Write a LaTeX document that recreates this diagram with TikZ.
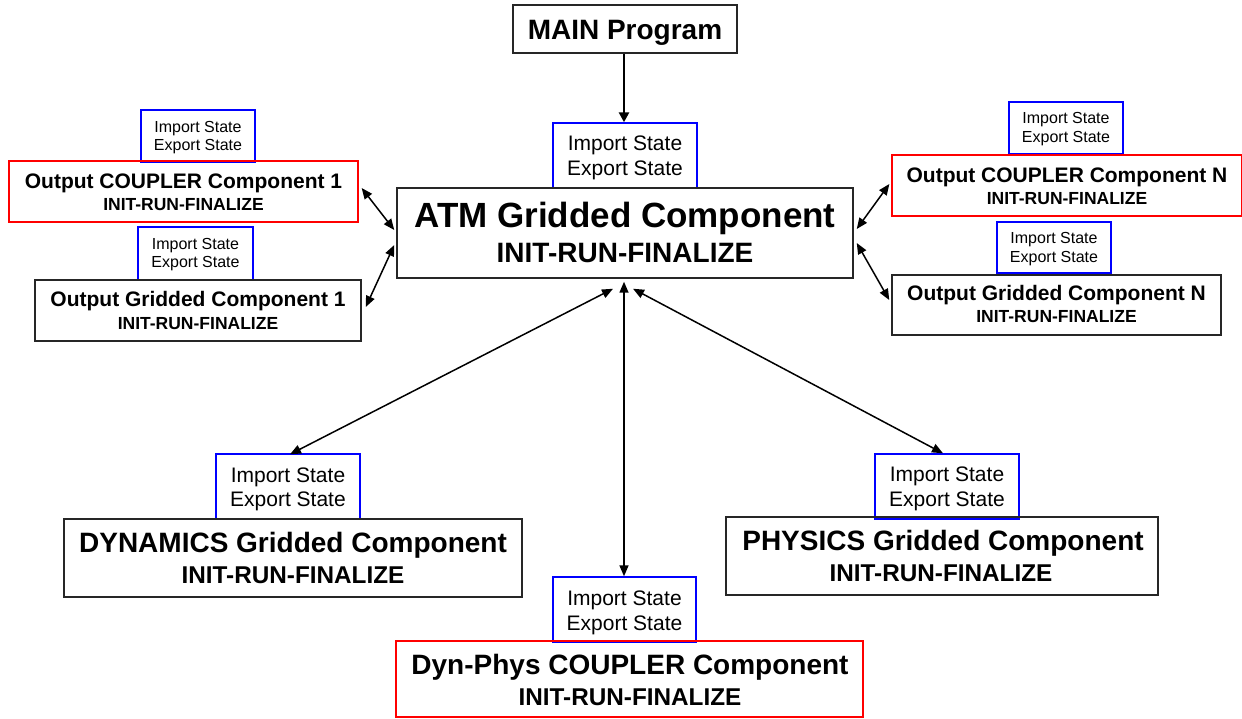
\documentclass[tikz,border=0pt]{standalone}
\usepackage{fontspec}
\setmainfont{Liberation Sans}
\usetikzlibrary{arrows.meta}
\tikzset{
  gbox/.style={draw=black!85, line width=1.5pt, rectangle, inner sep=0pt},
  cbox/.style={draw=red, line width=1.3pt, rectangle, inner sep=0pt},
  sbox/.style={draw=blue, line width=1.4pt, rectangle, inner sep=0pt},
  txt/.style={anchor=base, inner sep=0pt},
  conn/.style={line width=1.5pt, {Triangle[length=11pt,width=9pt]}-{Triangle[length=11pt,width=9pt]}},
  mainconn/.style={line width=2.5pt, -{Triangle[length=10pt,width=10pt]}}
}
\newcommand{\fs}[1]{\fontsize{#1}{#1}\selectfont}
\begin{document}
\begin{tikzpicture}[x=1pt,y=-1pt]
\useasboundingbox (0,0) rectangle (1242,719);
% boxes
\node[gbox, minimum width=224pt, minimum height=48pt] (main) at (625,29) {};
\node[sbox, minimum width=144pt, minimum height=65pt] (atmS) at (625,155.5) {};
\node[gbox, minimum width=456pt, minimum height=90pt] (atm) at (625,233) {};
\node[sbox, minimum width=114pt, minimum height=52pt] (c1S) at (198,136) {};
\node[cbox, minimum width=349pt, minimum height=61pt] (c1) at (183.5,191.5) {};
\node[sbox, minimum width=115pt, minimum height=53pt] (g1S) at (195.5,253.5) {};
\node[gbox, minimum width=326pt, minimum height=61pt] (g1) at (198,310.5) {};
\node[sbox, minimum width=114pt, minimum height=52pt] (cNS) at (1066,128) {};
\node[cbox, minimum width=349.5pt, minimum height=61pt] (cN) at (1066.75,185.5) {};
\node[sbox, minimum width=114pt, minimum height=51pt] (gNS) at (1054,247.5) {};
\node[gbox, minimum width=329pt, minimum height=60pt] (gN) at (1056.5,305) {};
\node[sbox, minimum width=144pt, minimum height=65pt] (dynS) at (288,486.5) {};
\node[gbox, minimum width=458pt, minimum height=78pt] (dyn) at (293,558) {};
\node[sbox, minimum width=144pt, minimum height=65pt] (phyS) at (947,486.5) {};
\node[gbox, minimum width=432pt, minimum height=78pt] (phy) at (942,556) {};
\node[sbox, minimum width=143pt, minimum height=65pt] (dpS) at (624.5,609.5) {};
\node[cbox, minimum width=467pt, minimum height=76pt] (dp) at (629.5,679) {};
% texts
\node[txt] (mainT) at (625,40) {\fs{28}\bfseries MAIN Program};
\node[txt] (atmSa) at (625,151) {\fs{21}Import State};
\node[txt] (atmSb) at (625,176) {\fs{21}Export State};
\node[txt] (atmTa) at (625,228) {\fs{35}\bfseries ATM Gridded Component};
\node[txt] (atmTb) at (625,263) {\fs{28}\bfseries INIT-RUN-FINALIZE};
\node[txt] (c1Sa) at (198,133) {\fs{16}Import State};
\node[txt] (c1Sb) at (198,151) {\fs{16}Export State};
\node[txt] (c1Ta) at (183.5,189) {\fs{21}\bfseries Output COUPLER Component 1};
\node[txt] (c1Tb) at (183.5,211) {\fs{17.5}\bfseries INIT-RUN-FINALIZE};
\node[txt] (g1Sa) at (195.5,250) {\fs{16}Import State};
\node[txt] (g1Sb) at (195.5,268) {\fs{16}Export State};
\node[txt] (g1Ta) at (198,307) {\fs{21}\bfseries Output Gridded Component 1};
\node[txt] (g1Tb) at (198,329) {\fs{17.5}\bfseries INIT-RUN-FINALIZE};
\node[txt] (cNSa) at (1066,124) {\fs{16}Import State};
\node[txt] (cNSb) at (1066,143) {\fs{16}Export State};
\node[txt] (cNTa) at (1067,183) {\fs{21}\bfseries Output COUPLER Component N};
\node[txt] (cNTb) at (1067,205) {\fs{17.5}\bfseries INIT-RUN-FINALIZE};
\node[txt] (gNSa) at (1054,244) {\fs{16}Import State};
\node[txt] (gNSb) at (1054,263) {\fs{16}Export State};
\node[txt] (gNTa) at (1056.5,301) {\fs{21}\bfseries Output Gridded Component N};
\node[txt] (gNTb) at (1056.5,323) {\fs{17.5}\bfseries INIT-RUN-FINALIZE};
\node[txt] (dynSa) at (288,482) {\fs{21}Import State};
\node[txt] (dynSb) at (288,506) {\fs{21}Export State};
\node[txt] (dynTa) at (293,552) {\fs{28}\bfseries DYNAMICS Gridded Component};
\node[txt] (dynTb) at (293,583) {\fs{24.3}\bfseries INIT-RUN-FINALIZE};
\node[txt] (phySa) at (947,481) {\fs{21}Import State};
\node[txt] (phySb) at (947,506) {\fs{21}Export State};
\node[txt] (phyTa) at (943,550) {\fs{28}\bfseries PHYSICS Gridded Component};
\node[txt] (phyTb) at (941,581) {\fs{24.3}\bfseries INIT-RUN-FINALIZE};
\node[txt] (dpSa) at (624.5,605) {\fs{21}Import State};
\node[txt] (dpSb) at (624.5,630) {\fs{21}Export State};
\node[txt] (dpTa) at (630,674) {\fs{28}\bfseries Dyn-Phys COUPLER Component};
\node[txt] (dpTb) at (630,705) {\fs{24.3}\bfseries INIT-RUN-FINALIZE};
% connectors
\draw[mainconn] ([xshift=-1pt]main.south) -- ([xshift=-1pt]atmS.north);
\draw[conn] ([xshift=3pt,yshift=3.5pt]c1.east) -- ([xshift=-2pt,yshift=3pt]atm.west);
\draw[conn] ([xshift=4pt,yshift=3.5pt]g1.east) -- ([xshift=-2pt,yshift=-12pt]atm.west);
\draw[conn] ([xshift=3pt,yshift=4pt]atm.east) -- ([xshift=-2pt,yshift=1.5pt]cN.west);
\draw[conn] ([xshift=3pt,yshift=-10pt]atm.east) -- ([xshift=-2pt,yshift=5pt]gN.west);
\draw[conn] ([xshift=-12pt,yshift=-10pt]atm.south) -- ([xshift=2pt,yshift=-1pt]dynS.north);
\draw[conn] ([xshift=-1pt,yshift=-3pt]atm.south) -- ([xshift=-0.5pt]dpS.north);
\draw[conn] ([xshift=8pt,yshift=-10pt]atm.south) -- ([xshift=-4pt]phyS.north);
\end{tikzpicture}
\end{document}
